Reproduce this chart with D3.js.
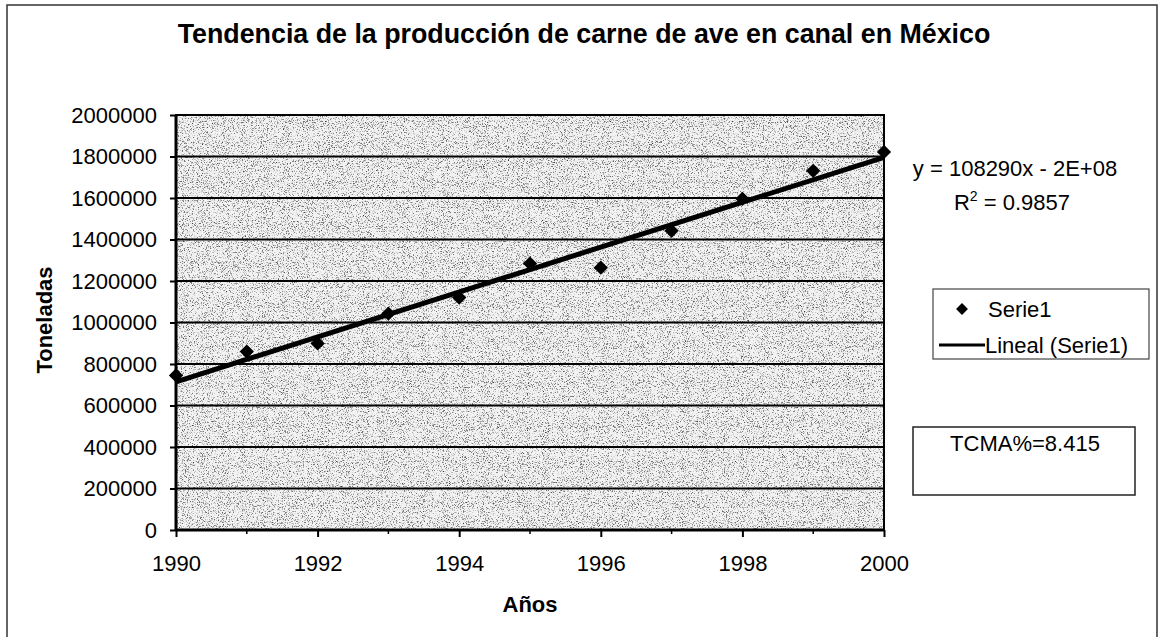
<!DOCTYPE html>
<html>
<head>
<meta charset="utf-8">
<script src="https://cdn.jsdelivr.net/npm/d3@7"></script>
<style>
  body { margin: 0; background: #fff; }
  text { font-family: "Liberation Sans", Arial, sans-serif; fill: #000; }
</style>
</head>
<body>
<div id="chart"></div>
<script>
// Data
var years = [1990, 1991, 1992, 1993, 1994, 1995, 1996, 1997, 1998, 1999, 2000];
var toneladas = [745000, 860000, 899000, 1043000, 1120000, 1284000, 1264000, 1442000, 1596000, 1731000, 1822000];
var yTicks = [0, 200000, 400000, 600000, 800000, 1000000, 1200000, 1400000, 1600000, 1800000, 2000000];
var xTicks = [1990, 1992, 1994, 1996, 1998, 2000];
var xMinor = [1991, 1993, 1995, 1997, 1999];
var equationText = "y = 108290x - 2E+08";
var r2Value = "0.9857";
var tcmaText = "TCMA%=8.415";

var W = 1161, H = 637;
var margin = {top: 115, left: 176},
    width = 708,
    height = 415;

var svg = d3.select("#chart").append("svg")
    .attr("width", W)
    .attr("height", H);

// outer chart frame
svg.append("rect")
    .attr("x", 7).attr("y", 5)
    .attr("width", 1150).attr("height", 660)
    .attr("fill", "none")
    .attr("stroke", "#333")
    .attr("stroke-width", 1.5);

// title
svg.append("text")
    .attr("x", 584).attr("y", 43)
    .attr("text-anchor", "middle")
    .style("font-size", "26.8px")
    .style("font-weight", "bold")
    .text("Tendencia de la producción de carne de ave en canal en México");

// speckled background like the scan
var defs = svg.append("defs");
function speckle(id, seed, freq, a, b) {
  var f = defs.append("filter")
      .attr("id", id)
      .attr("x", 0).attr("y", 0).attr("width", 1).attr("height", 1);
  f.append("feTurbulence")
      .attr("type", "fractalNoise")
      .attr("baseFrequency", freq)
      .attr("numOctaves", 2)
      .attr("seed", seed);
  f.append("feColorMatrix")
      .attr("type", "matrix")
      .attr("values", "0 0 0 0 0  0 0 0 0 0  0 0 0 0 0  " + a + " 0 0 0 " + b);
  f.append("feComposite")
      .attr("operator", "in")
      .attr("in2", "SourceGraphic");
}
speckle("speckleDark", 7, 0.95, -7, 2.75);
speckle("speckleGray", 21, 0.8, -6, 2.55);

var g = svg.append("g")
    .attr("transform", "translate(" + margin.left + "," + margin.top + ")");

var x = d3.scaleLinear().domain([1990, 2000]).range([0, width]);
var y = d3.scaleLinear().domain([0, 2000000]).range([height, 0]);

g.append("rect")
    .attr("width", width).attr("height", height)
    .attr("fill", "#f2f2f2");
g.append("rect")
    .attr("width", width).attr("height", height)
    .attr("fill", "#999")
    .attr("filter", "url(#speckleGray)")
    .attr("opacity", 0.5);
g.append("rect")
    .attr("width", width).attr("height", height)
    .attr("fill", "#000")
    .attr("filter", "url(#speckleDark)")
    .attr("opacity", 0.5);

// gridlines
g.selectAll(".grid")
    .data(yTicks)
  .enter().append("line")
    .attr("class", "grid")
    .attr("x1", 0).attr("x2", width)
    .attr("y1", function(d) { return y(d); })
    .attr("y2", function(d) { return y(d); })
    .attr("stroke", "#000")
    .attr("stroke-width", 2);

// plot border
g.append("rect")
    .attr("width", width).attr("height", height)
    .attr("fill", "none")
    .attr("stroke", "#000")
    .attr("stroke-width", 2);
g.append("line")
    .attr("x1", 0).attr("x2", 0).attr("y1", 0).attr("y2", height)
    .attr("stroke", "#000").attr("stroke-width", 3);
g.append("line")
    .attr("x1", 0).attr("x2", width).attr("y1", height).attr("y2", height)
    .attr("stroke", "#000").attr("stroke-width", 3);

// y axis
var yAxis = g.append("g")
    .call(d3.axisLeft(y).tickValues(yTicks).tickSize(6).tickPadding(13).tickFormat(d3.format("d")));
yAxis.select(".domain").remove();
yAxis.selectAll("line").attr("stroke", "#000").attr("stroke-width", 2);
yAxis.selectAll("text").style("font-size", "22px").style("font-family", "Liberation Sans, Arial, sans-serif");

// x axis
var xAxis = g.append("g")
    .attr("transform", "translate(0," + height + ")")
    .call(d3.axisBottom(x).tickValues(xTicks).tickSize(7).tickPadding(18).tickFormat(d3.format("d")));
xAxis.select(".domain").remove();
xAxis.selectAll("line").attr("stroke", "#000").attr("stroke-width", 2);
xAxis.selectAll("text").style("font-size", "22px").style("font-family", "Liberation Sans, Arial, sans-serif");

g.selectAll(".minor")
    .data(xMinor)
  .enter().append("line")
    .attr("class", "minor")
    .attr("x1", function(d) { return x(d); })
    .attr("x2", function(d) { return x(d); })
    .attr("y1", height).attr("y2", height + 4)
    .attr("stroke", "#000").attr("stroke-width", 1.5);

// axis titles
svg.append("text")
    .attr("x", 530).attr("y", 612)
    .attr("text-anchor", "middle")
    .style("font-size", "22px")
    .style("font-weight", "bold")
    .text("Años");
svg.append("text")
    .attr("transform", "translate(52,320) rotate(-90)")
    .attr("text-anchor", "middle")
    .style("font-size", "22px")
    .style("font-weight", "bold")
    .text("Toneladas");

// linear trend, least squares from the data
var mx = d3.mean(years), my = d3.mean(toneladas);
var slope = d3.sum(years, function(d, i) { return (d - mx) * (toneladas[i] - my); }) /
            d3.sum(years, function(d) { return (d - mx) * (d - mx); });
var icpt = my - slope * mx;
var trend = [1990, 2000].map(function(d) { return {x: d, y: icpt + slope * d}; });

var line = d3.line()
    .x(function(d) { return x(d.x); })
    .y(function(d) { return y(d.y); });

g.append("path")
    .datum(trend)
    .attr("d", line)
    .attr("fill", "none")
    .attr("stroke", "#000")
    .attr("stroke-width", 5);

// data points as diamonds
var diamond = d3.symbol().type(d3.symbolDiamond2).size(130);
g.selectAll(".dot")
    .data(years)
  .enter().append("path")
    .attr("class", "dot")
    .attr("transform", function(d, i) { return "translate(" + x(d) + "," + y(toneladas[i]) + ")"; })
    .attr("d", diamond)
    .attr("fill", "#000");

// equation and R2
svg.append("text")
    .attr("x", 1015).attr("y", 176)
    .attr("text-anchor", "middle")
    .style("font-size", "22px")
    .text(equationText);
var r2 = svg.append("text")
    .attr("x", 1012).attr("y", 210)
    .attr("text-anchor", "middle")
    .style("font-size", "22px");
r2.append("tspan").text("R");
r2.append("tspan").attr("dy", -9).style("font-size", "14px").text("2");
r2.append("tspan").attr("dy", 9).text(" = " + r2Value);

// legend
var leg = svg.append("g").attr("transform", "translate(933,289)");
leg.append("rect")
    .attr("width", 216).attr("height", 70)
    .attr("fill", "#fff")
    .attr("stroke", "#444")
    .attr("stroke-width", 1.2);
leg.append("path")
    .attr("transform", "translate(29,20)")
    .attr("d", d3.symbol().type(d3.symbolDiamond2).size(90))
    .attr("fill", "#000");
leg.append("text")
    .attr("x", 55).attr("y", 28)
    .style("font-size", "22px")
    .text("Serie1");
leg.append("line")
    .attr("x1", 6).attr("x2", 52).attr("y1", 56).attr("y2", 56)
    .attr("stroke", "#000").attr("stroke-width", 3);
leg.append("text")
    .attr("x", 52).attr("y", 64)
    .style("font-size", "22px")
    .text("Lineal (Serie1)");

// TCMA box
svg.append("rect")
    .attr("x", 913).attr("y", 427)
    .attr("width", 222).attr("height", 68)
    .attr("fill", "#fff")
    .attr("stroke", "#222")
    .attr("stroke-width", 1.5);
svg.append("text")
    .attr("x", 1025).attr("y", 451)
    .attr("text-anchor", "middle")
    .style("font-size", "22px")
    .text(tcmaText);
</script>
</body>
</html>
